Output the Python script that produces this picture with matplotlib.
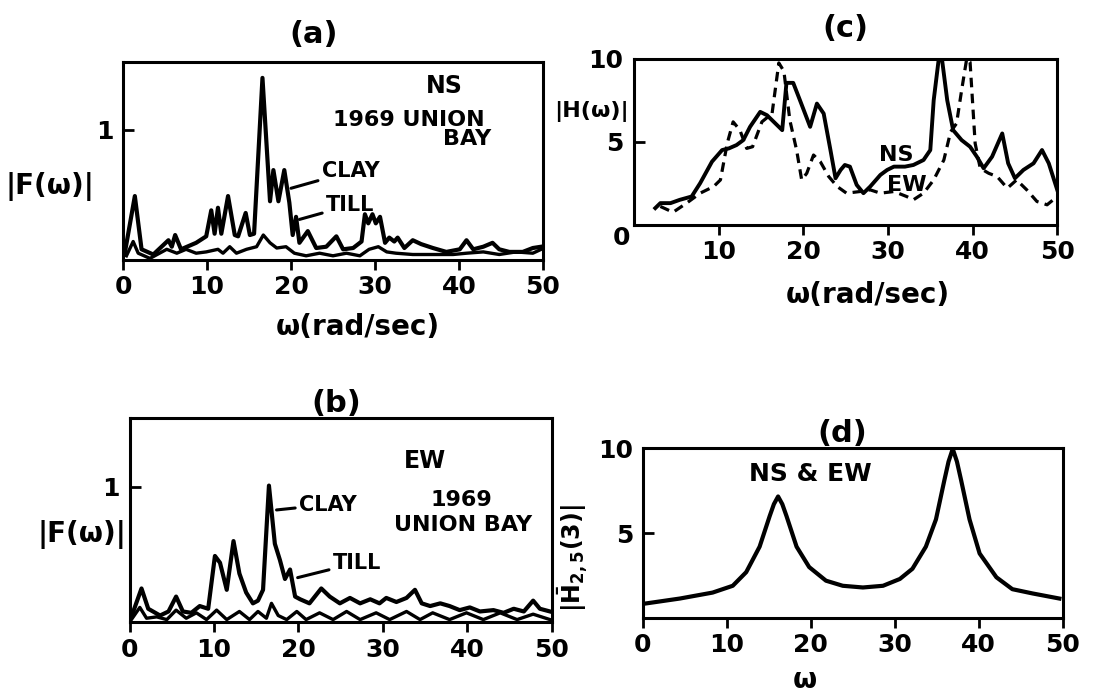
import matplotlib
matplotlib.use("Agg")
import matplotlib.pyplot as plt

plt.rcParams['font.family'] = ['DejaVu Sans']
plt.rcParams['font.weight'] = 'bold'
plt.rcParams['axes.titleweight'] = 'bold'
plt.rcParams['axes.labelweight'] = 'bold'

# (a) NS, 1969 Union Bay: |F(w)| for clay and till
a_clay_w = [0.2, 1.4, 2.2, 3.6, 5.4, 5.8, 6.2, 6.9, 8.7, 9.9, 10.5, 10.9, 11.3, 11.7,
            12.5, 13.3, 13.7, 14.6, 15.1, 15.6, 16.6, 17.5, 17.9, 18.5, 19.2, 19.8,
            20.2, 20.6, 21.0, 22.0, 23.0, 24.2, 25.4, 26.2, 27.4, 28.4, 28.8, 29.2,
            29.7, 30.1, 30.6, 31.2, 31.7, 32.3, 32.7, 33.5, 34.5, 35.5, 36.9, 38.5,
            40.1, 40.9, 41.7, 42.9, 44.0, 44.8, 46.0, 47.6, 48.8, 49.8]
a_clay_f = [0.05, 0.49, 0.08, 0.04, 0.15, 0.10, 0.19, 0.08, 0.13, 0.18, 0.38, 0.20, 0.40, 0.20,
            0.49, 0.19, 0.18, 0.36, 0.19, 0.20, 1.40, 0.45, 0.69, 0.45, 0.69, 0.44,
            0.19, 0.33, 0.13, 0.22, 0.09, 0.10, 0.18, 0.08, 0.09, 0.14, 0.35, 0.28,
            0.35, 0.28, 0.33, 0.13, 0.17, 0.14, 0.17, 0.09, 0.15, 0.12, 0.09, 0.06,
            0.08, 0.15, 0.08, 0.10, 0.13, 0.08, 0.06, 0.06, 0.09, 0.10]
a_till_w = [0.4, 1.2, 1.8, 3.2, 5.2, 6.4, 7.5, 8.7, 9.9, 11.3, 11.9, 12.7, 13.5, 14.7,
            15.9, 16.7, 17.5, 18.3, 19.4, 20.4, 21.8, 23.4, 25.0, 26.6, 28.2, 29.3,
            30.4, 31.4, 32.5, 34.5, 36.9, 39.3, 40.9, 42.9, 44.8, 46.8, 48.8, 49.8]
a_till_f = [0.03, 0.14, 0.05, 0.01, 0.08, 0.05, 0.08, 0.05, 0.06, 0.08, 0.05, 0.10, 0.05, 0.08,
            0.10, 0.19, 0.13, 0.09, 0.10, 0.05, 0.03, 0.05, 0.03, 0.05, 0.03, 0.08,
            0.10, 0.06, 0.05, 0.04, 0.04, 0.04, 0.05, 0.06, 0.04, 0.06, 0.05, 0.08]

# (b) EW, 1969 Union Bay
b_clay_w = [0.2, 1.4, 2.2, 3.6, 4.6, 5.5, 6.3, 7.3, 8.3, 9.3, 10.1, 10.7, 11.5, 12.3,
            13.0, 13.8, 14.6, 15.2, 15.8, 16.5, 17.2, 17.8, 18.4, 19.0, 19.6, 20.2,
            21.3, 22.7, 23.7, 24.9, 26.1, 27.3, 28.5, 29.6, 30.4, 31.6, 32.8, 33.8,
            34.6, 35.6, 36.8, 37.9, 39.1, 40.3, 41.5, 43.1, 44.3, 45.5, 46.7, 47.8,
            48.6, 49.8]
b_clay_f = [0.04, 0.25, 0.10, 0.05, 0.08, 0.19, 0.08, 0.07, 0.12, 0.10, 0.49, 0.44, 0.24, 0.60,
            0.36, 0.22, 0.14, 0.16, 0.24, 1.01, 0.58, 0.46, 0.32, 0.39, 0.19, 0.17,
            0.14, 0.25, 0.19, 0.14, 0.18, 0.14, 0.17, 0.14, 0.18, 0.15, 0.18, 0.24,
            0.14, 0.12, 0.14, 0.12, 0.09, 0.11, 0.08, 0.09, 0.07, 0.10, 0.08, 0.16,
            0.10, 0.08]
b_till_w = [0.2, 1.2, 2.0, 3.2, 4.4, 5.5, 6.7, 7.9, 9.1, 10.3, 11.5, 13.0, 14.2, 15.2,
            16.2, 16.8, 17.6, 18.6, 19.8, 20.9, 22.5, 24.1, 25.7, 27.3, 29.2, 30.8,
            32.8, 34.4, 35.9, 37.9, 39.9, 41.9, 43.9, 45.9, 47.8, 49.8]
b_till_f = [0.02, 0.11, 0.03, 0.04, 0.02, 0.09, 0.03, 0.07, 0.02, 0.09, 0.02, 0.08, 0.02, 0.08,
            0.03, 0.14, 0.05, 0.02, 0.08, 0.02, 0.07, 0.02, 0.08, 0.02, 0.07, 0.02,
            0.08, 0.02, 0.07, 0.02, 0.07, 0.02, 0.07, 0.02, 0.06, 0.02]

# (c) |H(w)| NS (solid) and EW (dashed)
c_ns_w = [2.5, 3.1, 4.3, 5.4, 6.8, 7.8, 9.2, 10.4, 11.2, 12.1, 12.9, 13.7, 14.9, 15.7,
          16.7, 17.5, 18.0, 18.8, 19.6, 20.8, 21.6, 22.4, 23.2, 23.8, 24.4, 24.9, 25.5,
          26.3, 27.1, 27.9, 29.1, 29.9, 30.7, 32.0, 33.0, 34.2, 35.0, 35.4, 36.0, 36.4,
          37.0, 37.7, 38.7, 39.7, 40.5, 41.3, 42.3, 43.5, 44.2, 45.0, 46.0, 47.2, 48.2,
          49.0, 50.0]
c_ns_h = [1.0, 1.3, 1.3, 1.5, 1.7, 2.5, 3.8, 4.5, 4.6, 4.8, 5.1, 5.9, 6.8, 6.6,
          6.1, 5.7, 8.55, 8.55, 7.5, 5.9, 7.3, 6.7, 4.5, 2.8, 3.3, 3.6, 3.5,
          2.4, 1.9, 2.3, 3.0, 3.3, 3.5, 3.5, 3.6, 3.9, 4.5, 7.5, 10.0, 9.9,
          7.5, 5.7, 5.1, 4.7, 4.1, 3.4, 4.1, 5.5, 3.7, 2.8, 3.3, 3.7, 4.5,
          3.7, 2.1]
c_ew_w = [3.1, 4.6, 6.2, 7.8, 9.4, 10.2, 11.0, 11.7, 12.5, 13.3, 14.0, 15.1, 16.3, 17.1,
          17.7, 18.4, 19.2, 19.8, 20.4, 21.2, 22.0, 23.0, 24.0, 25.1, 26.7, 27.9, 29.1,
          30.7, 32.2, 33.0, 34.2, 35.4, 36.6, 37.4, 38.1, 38.7, 39.3, 39.7, 40.3, 40.9,
          41.9, 42.9, 44.1, 45.2, 46.4, 47.6, 48.8, 50.0]
c_ew_h = [1.1, 0.75, 1.3, 1.9, 2.3, 2.7, 4.9, 6.2, 5.7, 4.6, 4.7, 6.2, 6.7, 9.75,
          9.25, 6.3, 4.5, 2.7, 3.1, 4.2, 3.8, 2.9, 2.3, 1.9, 2.0, 2.1, 1.9,
          2.0, 1.7, 1.5, 1.9, 2.7, 3.9, 5.6, 6.1, 8.1, 10.0, 9.8, 4.9, 3.4,
          3.1, 2.9, 2.2, 2.7, 2.1, 1.4, 1.2, 1.7]

# (d) |H_2,5(3)| for NS & EW
d_w = [0.2, 4.4, 8.3, 10.7, 12.3, 13.9, 15.1, 15.6, 16.1, 16.6, 17.1, 18.3, 19.8, 21.8,
       23.8, 26.2, 28.6, 30.6, 32.1, 33.7, 34.9, 35.9, 36.4, 36.9, 37.4, 37.9, 38.9,
       40.1, 42.1, 44.0, 46.4, 49.6]
d_h = [0.85, 1.15, 1.5, 1.9, 2.7, 4.2, 6.0, 6.7, 7.15, 6.7, 6.0, 4.2, 3.0, 2.2,
       1.9, 1.8, 1.9, 2.3, 2.9, 4.2, 5.8, 8.1, 9.2, 9.95, 9.2, 8.1, 5.8,
       3.8, 2.4, 1.7, 1.45, 1.15]

xticks = [0, 10, 20, 30, 40, 50]

fig = plt.figure(figsize=(10.99, 7.0), dpi=100)

TICK_FS = 18
LAB_FS = 20
TITLE_FS = 22
NOTE_FS = 15


def frame(ax, ymax):
    ax.set_xlim(0, 50)
    ax.set_ylim(0, ymax)
    for s in ax.spines.values():
        s.set_linewidth(2.2)
    ax.tick_params(axis='x', direction='out', length=7, width=2, labelsize=TICK_FS, pad=4)
    ax.tick_params(axis='y', direction='in', length=8, width=2, labelsize=TICK_FS, pad=7)


def note(ax, x, y, s, size=NOTE_FS):
    ax.text(x, y, s, transform=ax.transAxes, fontsize=size, ha='center', va='center')


def pointer(ax, s, tip, start):
    ax.annotate(s, xy=tip, xytext=start, fontsize=NOTE_FS, va='center',
                arrowprops=dict(arrowstyle='-', lw=2.2, color='black', shrinkA=1, shrinkB=0))


# (a)
ax_a = fig.add_axes([0.112, 0.629, 0.382, 0.282])
frame(ax_a, 1.52)
ax_a.plot(a_till_w, a_till_f, color='black', lw=2.4)
ax_a.plot(a_clay_w, a_clay_f, color='black', lw=3.0)
ax_a.set_xticks(xticks)
ax_a.set_yticks([1])
ax_a.set_yticklabels(['1'])
ax_a.set_xlabel('ω(rad/sec)', fontsize=LAB_FS, labelpad=10, x=0.56)
ax_a.set_title('(a)', fontsize=TITLE_FS, pad=14, x=0.455)
fig.text(0.045, 0.733, '|F(ω)|', fontsize=LAB_FS, ha='center', va='center')
note(ax_a, 0.765, 0.88, 'NS', 17)
note(ax_a, 0.68, 0.71, '1969 UNION', 16)
note(ax_a, 0.82, 0.61, 'BAY', 16)
pointer(ax_a, 'CLAY', (20.0, 0.55), (23.7, 0.68))
pointer(ax_a, 'TILL', (21.0, 0.31), (24.2, 0.42))

# (b)
ax_b = fig.add_axes([0.118, 0.111, 0.384, 0.292])
frame(ax_b, 1.51)
ax_b.plot(b_till_w, b_till_f, color='black', lw=2.4)
ax_b.plot(b_clay_w, b_clay_f, color='black', lw=3.0)
ax_b.set_xticks(xticks)
ax_b.set_yticks([1])
ax_b.set_yticklabels(['1'])
ax_b.set_title('(b)', fontsize=TITLE_FS, pad=2, x=0.49)
fig.text(0.075, 0.237, '|F(ω)|', fontsize=LAB_FS, ha='center', va='center')
note(ax_b, 0.70, 0.79, 'EW', 17)
note(ax_b, 0.787, 0.60, '1969', 16)
note(ax_b, 0.79, 0.475, 'UNION BAY', 16)
pointer(ax_b, 'CLAY', (17.4, 0.83), (20.1, 0.87))
pointer(ax_b, 'TILL', (19.9, 0.33), (24.1, 0.44))

# (c)
ax_c = fig.add_axes([0.577, 0.679, 0.385, 0.237])
frame(ax_c, 10)
ax_c.plot(c_ns_w, c_ns_h, color='black', lw=2.8)
ax_c.plot(c_ew_w, c_ew_h, color='black', lw=2.3, ls=(0, (3, 2)))
ax_c.set_xticks(xticks[1:])
ax_c.set_yticks([5, 10])
ax_c.set_yticklabels(['5', '10'])
ax_c.tick_params(axis='y', pad=8)
ax_c.set_xlabel('ω(rad/sec)', fontsize=LAB_FS, labelpad=12, x=0.553)
ax_c.set_title('(c)', fontsize=TITLE_FS, pad=16)
ax_c.text(-0.03, -0.08, '0', transform=ax_c.transAxes, fontsize=TICK_FS, ha='center', va='center')
fig.text(0.538, 0.84, '|H(ω)|', fontsize=16, ha='center', va='center')
note(ax_c, 0.62, 0.42, 'NS', 16)
note(ax_c, 0.645, 0.24, 'EW', 16)

# (d)
ax_d = fig.add_axes([0.585, 0.117, 0.382, 0.243])
frame(ax_d, 10)
ax_d.plot(d_w, d_h, color='black', lw=3.0)
ax_d.set_xticks(xticks)
ax_d.set_yticks([5, 10])
ax_d.set_yticklabels(['5', '10'])
ax_d.set_xlabel('ω', fontsize=LAB_FS, labelpad=6, x=0.386)
ax_d.set_title('(d)', fontsize=TITLE_FS, pad=2, x=0.475)
ax_d.set_ylabel(r'$\mathbf{|\bar{H}_{2,5}(3)|}$', fontsize=17)
ax_d.yaxis.set_label_coords(-0.125, 0.35)
note(ax_d, 0.40, 0.85, 'NS & EW', 18)

fig.savefig('out.png', dpi=100, facecolor='white')
